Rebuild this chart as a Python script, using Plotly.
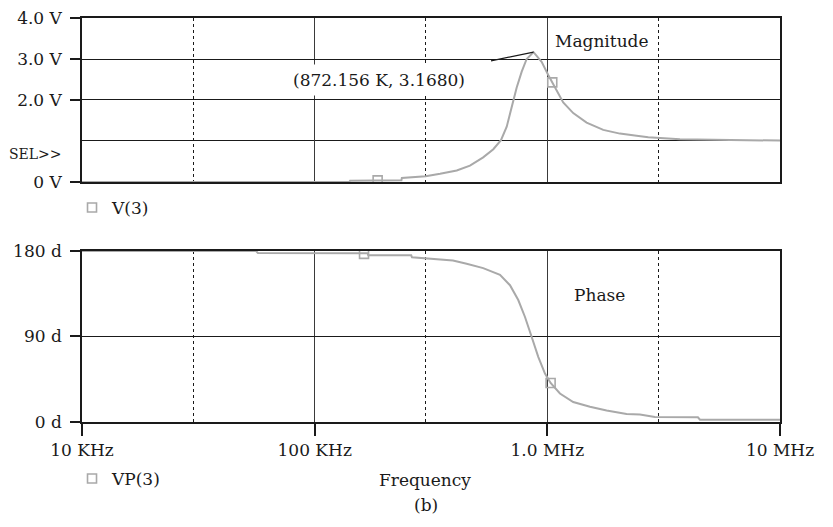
import numpy as np
import plotly.graph_objects as go

# ---- data ----
mag_freq_khz = [10, 141, 142, 236, 237, 300, 346, 408, 465, 530, 586, 632, 669, 710, 738, 776, 815,
                872.156, 945, 1009, 1096, 1170, 1292, 1475, 1739, 2051, 2420, 2715, 3713, 10000]
mag_volts = [0, 0, 0.03, 0.04, 0.1, 0.14, 0.2, 0.28, 0.4, 0.6, 0.8, 1.02, 1.35, 1.9, 2.3, 2.69, 3.0,
             3.168, 2.93, 2.61, 2.22, 1.94, 1.68, 1.45, 1.27, 1.18, 1.13, 1.09, 1.04, 1.01]
mag_marker_khz = [186.5, 1050]
mag_marker_volts = [0.04, 2.43]

ph_freq_khz = [10, 56, 57, 169, 170, 260, 262, 345, 393, 450, 530, 626, 691, 750, 801, 856, 914, 977,
               1033, 1133, 1292, 1525, 1798, 2191, 2500, 2900, 4438, 4530, 10000]
ph_deg = [180, 180, 178, 177.5, 175.5, 175.5, 173.4, 171, 170, 166.5, 162, 155, 144, 128.4, 110.8, 89.7,
          68.6, 51, 41.1, 30, 21, 16, 12, 8.5, 7.8, 5.3, 5, 2.5, 2.5]
ph_marker_khz = [163, 1033]
ph_marker_deg = [177, 41.1]

x_tickvals = [1e4, 1e5, 1e6, 1e7]
x_ticktext = ["10 KHz", "100 KHz", "1.0 MHz", "10 MHz"]
x_dotted = [3e4, 3e5, 3e6]
mag_tickvals = [0, 2, 3, 4]
mag_ticktext = ["0 V", "2.0 V", "3.0 V", "4.0 V"]
ph_tickvals = [0, 90, 180]
ph_ticktext = ["0 d", "90 d", "180 d"]

FONT = "DejaVu Serif"
CURVE = "#a9a9a9"
INK = "#1a1a1a"

hz = lambda a: [v * 1e3 for v in a]

fig = go.Figure()
fig.add_trace(go.Scatter(x=hz(mag_freq_khz), y=mag_volts, mode="lines",
                         line=dict(color=CURVE, width=2), showlegend=False,
                         xaxis="x", yaxis="y"))
fig.add_trace(go.Scatter(x=hz(mag_marker_khz), y=mag_marker_volts, mode="markers", name="V(3)",
                         marker=dict(symbol="square-open", size=9, color=CURVE, line=dict(width=1.6)),
                         xaxis="x", yaxis="y", legend="legend"))
fig.add_trace(go.Scatter(x=hz(ph_freq_khz), y=ph_deg, mode="lines",
                         line=dict(color=CURVE, width=2), showlegend=False,
                         xaxis="x2", yaxis="y2"))
fig.add_trace(go.Scatter(x=hz(ph_marker_khz), y=ph_marker_deg, mode="markers", name="VP(3)",
                         marker=dict(symbol="square-open", size=9, color=CURVE, line=dict(width=1.6)),
                         xaxis="x2", yaxis="y2", legend="legend2"))

xcommon = dict(type="log", range=[4, 7], showline=True, linecolor=INK, linewidth=1.5, mirror=True,
               tickmode="array", tickvals=x_tickvals, showgrid=True, gridcolor="#3a3a3a", gridwidth=1.4,
               zeroline=False, layer="below traces", automargin=False, ticklabeloverflow="allow",
               minor=dict(tickmode="array", tickvals=x_dotted, showgrid=True, gridcolor=INK,
                          griddash="dot", gridwidth=1.4, ticks=""))

fig.update_layout(
    width=833, height=527,
    paper_bgcolor="white", plot_bgcolor="white",
    margin=dict(l=74, r=61, t=10, b=113, autoexpand=False),
    font=dict(family=FONT, size=17, color=INK),
    xaxis=dict(**xcommon, domain=[0, 1], anchor="y", showticklabels=False, ticks=""),
    yaxis=dict(domain=[0.5941, 1], range=[0, 4], tickmode="array", tickvals=mag_tickvals,
               ticktext=mag_ticktext, ticks="outside", ticklen=10, tickwidth=1.5, tickcolor=INK,
               showline=True, linecolor=INK, linewidth=1.5, mirror=True, automargin=False,
               ticklabeloverflow="allow",
               showgrid=True, gridcolor=INK, gridwidth=1.4, zeroline=False, layer="below traces",
               ticklabelstandoff=5,
               minor=dict(tickmode="array", tickvals=[1], showgrid=True, gridcolor=INK,
                          gridwidth=1.4, ticks="")),
    xaxis2=dict(**xcommon, domain=[0, 1], anchor="y2", ticktext=x_ticktext, ticks="outside",
                ticklen=12, tickwidth=1.5, tickcolor=INK),
    yaxis2=dict(domain=[0, 0.4233], range=[0, 180], tickmode="array", tickvals=ph_tickvals,
                ticktext=ph_ticktext, ticks="outside", ticklen=10, tickwidth=1.5, tickcolor=INK,
                showline=True, linecolor=INK, linewidth=1.5, mirror=True, automargin=False,
                ticklabeloverflow="allow",
                showgrid=True, gridcolor=INK, gridwidth=1.4, zeroline=False, layer="below traces",
                ticklabelstandoff=5),
    legend=dict(x=-0.0143, y=0.5297, xanchor="left", yanchor="middle", bgcolor="rgba(0,0,0,0)",
                font=dict(family=FONT, size=17, color=INK)),
    legend2=dict(x=-0.0143, y=-0.1411, xanchor="left", yanchor="middle", bgcolor="rgba(0,0,0,0)",
                 font=dict(family=FONT, size=17, color=INK)),
)

peak_i = int(np.argmax(mag_volts))
peak_f = mag_freq_khz[peak_i] * 1e3
peak_v = mag_volts[peak_i]

ann_common = dict(xref="paper", yref="paper", xanchor="center", yanchor="middle", showarrow=False)
annotations = [
    dict(text=f"({mag_freq_khz[peak_i]:.3f} K, {peak_v:.4f})", x=0.4255, y=0.8460,
         bgcolor="white", borderpad=5, **ann_common),
    dict(text="", x=np.log10(peak_f), y=peak_v, xref="x", yref="y", showarrow=True,
         arrowhead=0, arrowwidth=1.2, arrowcolor=INK, ax=-44, ay=9, standoff=0),
    dict(text="Magnitude", x=0.745, y=0.9430, **ann_common),
    dict(text="Phase", x=0.7407, y=0.3144, **ann_common),
    dict(text="Frequency", x=0.4914, y=-0.1436, **ann_common),
    dict(text="(b)", x=0.4928, y=-0.2054, **ann_common),
    dict(text="SEL>>", x=-0.0258, y=0.6634, xref="paper", yref="paper", xanchor="right",
         yanchor="middle", showarrow=False, font=dict(size=14)),
]
fig.update_layout(annotations=annotations)

fig.write_html("out.html")
